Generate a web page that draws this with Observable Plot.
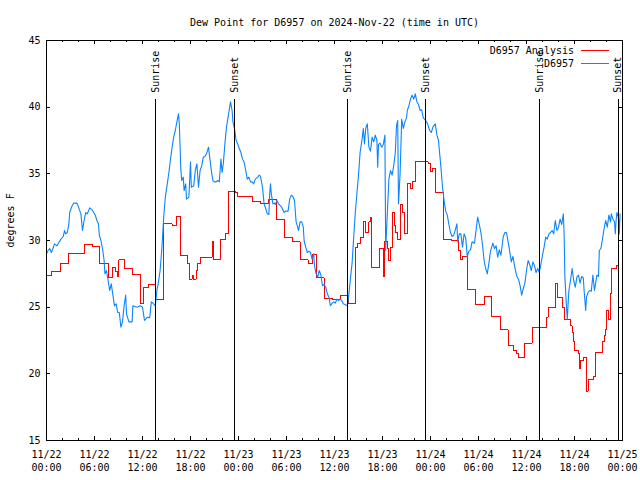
<!DOCTYPE html>
<html><head><meta charset="utf-8">
<script src="https://cdn.jsdelivr.net/npm/d3@7"></script>
<script src="https://cdn.jsdelivr.net/npm/@observablehq/plot@0.6"></script>
<style>html,body{margin:0;padding:0;background:#fff}svg{display:block}</style>
</head><body><div id="chart"></div>
<script>
const chartTitle = "Dew Point for D6957 on 2024-Nov-22 (time in UTC)";
const yLabel = "degrees F";
const startTime = "2024-11-22T00:00:00Z";
const seriesNames = ["D6957 Analysis", "D6957"];
const seriesColors = ["#ff0000", "#0a84ff"];

// Observations (blue): hours since start, dew point (F)
const obsHours = [0,0.2,0.4,0.6,0.8,1,1.3,1.6,1.8,2.1,2.25,2.4,2.6,2.8,2.9,3.2,3.4,3.8,4,4.3,4.5,4.7,4.9,5.1,5.4,5.7,5.9,6.1,6.3,6.5,6.6,6.8,7,7.2,7.3,7.5,7.7,7.9,8.1,8.3,8.5,8.7,8.9,9.1,9.3,9.5,9.7,9.9,10,10.3,10.7,10.8,11.3,11.7,12,12.25,12.6,12.9,13.1,13.3,13.6,13.8,14,14.2,14.4,14.65,14.85,15.1,15.3,15.5,15.7,15.9,16.1,16.3,16.5,16.6,16.8,16.9,17.1,17.2,17.4,17.5,17.8,18,18.1,18.4,18.6,18.8,19,19.2,19.4,19.6,19.8,20,20.25,20.4,20.6,20.8,21,21.2,21.4,21.6,21.8,21.95,22.1,22.3,22.5,22.7,22.9,23,23.2,23.3,23.5,23.7,23.9,24.1,24.3,24.5,24.7,24.9,25.1,25.3,25.5,25.7,25.9,26.1,26.4,26.6,26.75,27,27.2,27.4,27.6,27.8,27.9,28,28.1,28.3,28.5,28.6,28.8,29,29.4,29.7,29.9,30.2,30.4,30.6,30.8,31,31.2,31.4,31.5,31.7,31.9,32.1,32.2,32.4,32.6,32.8,33,33.2,33.4,33.5,33.7,33.9,34.1,34.3,34.5,34.7,34.9,35.1,35.3,35.5,35.7,35.9,36.1,36.3,36.5,36.7,36.9,37.1,37.3,37.6,37.8,38,38.2,38.4,38.6,38.8,39,39.2,39.45,39.6,39.75,39.9,40.1,40.3,40.5,40.7,40.9,41.1,41.3,41.4,41.5,41.7,41.9,42.1,42.3,42.4,42.6,42.8,43,43.2,43.4,43.6,43.75,43.9,44,44.2,44.4,44.6,44.8,45,45.1,45.3,45.5,45.7,45.9,46.1,46.3,46.5,46.7,46.9,47.1,47.4,47.6,47.9,48.1,48.3,48.6,48.8,49,49.3,49.5,49.7,49.9,50.1,50.3,50.5,50.7,50.9,51.1,51.3,51.4,51.6,51.8,52,52.2,52.4,52.6,52.8,53,53.2,53.5,53.7,53.9,54.1,54.3,54.5,54.7,54.9,55.1,55.3,55.5,55.8,56,56.2,56.4,56.6,56.8,57.1,57.3,57.5,57.7,57.9,58.1,58.3,58.6,58.8,59,59.2,59.4,59.6,59.8,60,60.2,60.4,60.6,60.8,61,61.2,61.4,61.6,61.8,62,62.2,62.4,62.6,62.8,63,63.2,63.4,63.6,63.8,64,64.2,64.4,64.6,64.7,64.8,65,65.1,65.2,65.3,65.5,65.7,65.9,66.1,66.3,66.5,66.7,66.9,67.1,67.2,67.4,67.5,67.7,67.9,68.1,68.3,68.5,68.8,69,69.1,69.3,69.5,69.7,69.9,70.1,70.3,70.5,70.6,70.8,71,71.1,71.2,71.3,71.5,71.6,71.7];
const obsValues = [29.0,29.25,29.4,29.1,29.4,29.75,29.6,29.9,30.1,30.3,30.75,30.5,30.6,31.25,32.1,32.6,32.8,32.8,32.5,32.0,30.75,31.5,32.1,32.0,32.45,32.3,32.1,31.9,31.5,31.25,30.4,30.0,29.4,28.5,27.5,27.75,27.0,26.25,26.75,25.9,25.1,25.25,24.6,24.6,23.5,23.9,25.1,25.9,24.5,23.9,23.9,25.1,25.0,25.1,25.0,24.0,24.25,24.2,25.4,25.3,25.1,26.25,26.9,27.75,29.25,31.75,33.25,34.25,35.1,36.1,37.0,37.75,38.25,38.9,39.5,38.75,35.25,34.5,34.75,33.75,34.25,33.1,33.25,35.9,34.0,34.1,35.25,35.75,34.0,35.25,35.6,36.25,36.3,36.5,37.0,36.25,35.25,34.5,34.4,34.4,34.5,34.4,36.1,35.1,35.75,37.25,38.5,39.25,40.0,40.4,39.75,38.9,38.4,37.5,37.25,36.9,36.6,36.1,35.9,35.25,34.6,34.75,34.4,34.4,34.25,34.6,34.75,34.9,34.8,34.0,32.75,32.4,32.0,31.95,33.5,34.25,33.5,32.75,32.8,32.7,33.0,32.75,32.5,32.1,32.2,32.2,33.1,33.4,33.3,33.0,31.4,31.0,30.75,31.4,31.4,31.0,30.0,29.5,29.1,29.2,29.1,28.6,29.0,28.1,27.5,27.25,27.75,27.4,26.6,26.7,26.5,26.0,25.75,25.1,25.3,25.4,25.3,25.6,25.5,25.6,25.5,25.25,25.2,25.1,26.0,27.2,28.3,30.25,32.1,33.5,34.9,36.6,37.6,38.4,37.25,38.4,38.75,37.0,36.7,37.75,37.4,37.9,37.5,35.5,37.2,37.3,37.0,37.2,37.9,29.25,32.0,34.6,35.25,34.9,35.6,36.6,38.6,39.0,32.75,35.0,39.1,38.4,38.9,39.2,39.75,40.1,40.6,40.9,40.6,41.0,40.4,40.2,39.75,39.8,39.2,39.0,38.8,38.25,38.1,38.5,38.75,37.9,37.5,35.5,34.0,33.0,32.2,31.9,31.2,30.6,30.3,30.4,30.8,31.25,29.9,30.5,30.5,29.5,30.5,30.2,28.8,29.2,29.3,29.9,29.8,30.8,31.75,31.2,30.6,29.7,28.5,27.9,27.5,28.3,29.2,29.8,29.4,29.6,28.75,29.3,28.9,30.3,30.6,30.6,29.9,29.2,28.4,28.8,27.8,27.3,27.1,26.6,25.9,26.4,26.8,27.75,28.5,28.2,27.75,28.4,28.1,27.6,27.9,27.6,28.2,28.9,29.5,30.25,30.1,30.5,30.6,30.75,30.5,31.5,30.75,31.0,31.6,31.2,32.0,30.5,27.25,25.0,24.1,25.25,26.25,27.0,27.9,27.0,26.5,27.25,27.4,26.8,27.3,27.2,26.25,24.75,25.75,26.1,26.25,26.2,27.4,26.25,27.4,27.3,29.25,29.4,30.1,30.9,31.5,31.0,31.9,31.4,32.0,31.6,31.4,30.5,31.5,32.1,31.7,30.5,32.0];

// Analysis (red, stepped): hours since start, dew point (F)
const anaHours = [0,0.66,1.75,2.75,3.8,4.8,5.8,6.6,7.75,8.2,8.6,8.9,9.05,9.75,10.7,11.75,12.1,12.8,13.65,14.65,15.7,16.25,16.75,17.6,17.9,18.2,18.4,18.7,18.9,19.2,20.7,20.9,21.75,22.4,22.7,23.6,23.9,25.7,26.8,27.7,28.7,29.75,30.7,31.7,32.7,33.3,33.7,34.7,35.7,36.7,37.7,38.65,38.85,39.2,39.6,39.9,40.3,40.45,40.6,41.6,42.1,42.25,42.6,42.8,43.0,43.3,43.45,43.6,43.85,44.3,44.5,44.7,45.1,45.5,45.75,46.1,47.7,48.0,48.3,48.6,49.6,50.6,51.5,51.7,52.0,52.6,53.6,54.7,55.6,56.7,57.7,58.4,58.7,59.0,59.7,60.7,62.5,62.7,63.6,63.9,64.5,64.75,65.5,65.7,65.9,66.0,66.5,66.6,66.8,67.1,67.5,67.7,68.4,68.6,69.5,69.7,69.9,70.0,70.2,70.5,70.6,71.25,71.5];
const anaValues = [27.35,27.7,28.25,29.0,29.05,29.7,29.55,28.25,27.2,28.0,27.7,27.3,28.55,27.9,27.45,25.3,26.45,26.7,25.6,31.25,31.1,31.8,28.9,28.25,27.1,27.4,27.1,27.75,28.25,28.75,29.9,28.55,30.1,30.5,33.7,33.6,33.3,32.9,32.75,33.1,31.6,30.25,29.9,28.55,28.25,28.95,27.2,25.65,25.55,25.9,25.3,29.5,29.75,30.2,31.4,30.6,31.4,31.75,28.0,29.4,27.3,29.9,29.4,28.5,29.5,32.1,31.1,30.6,30.1,32.7,32.1,30.5,34.25,33.9,34.4,35.9,35.8,35.2,35.4,33.6,30.1,30.0,29.25,28.6,28.8,26.3,25.2,25.8,24.3,23.3,22.1,21.75,21.55,21.2,22.3,23.45,24.25,25.0,26.75,25.7,25.0,24.1,23.6,23.1,22.4,21.75,21.5,20.4,21.0,21.2,18.7,19.6,19.8,21.6,22.4,22.9,23.3,24.75,24.05,26.0,27.9,28.1,28.1];

// Sunrise / sunset markers
const sunHours = [13.67, 23.54, 37.67, 47.42, 61.67, 71.46];
const sunLabels = ["Sunrise", "Sunset", "Sunrise", "Sunset", "Sunrise", "Sunset"];

// Ticks
const xMajorHours = [0, 6, 12, 18, 24, 30, 36, 42, 48, 54, 60, 66, 72];
const xMinorHours = [2, 4, 8, 10, 14, 16, 20, 22, 26, 28, 32, 34, 38, 40, 44, 46, 50, 52, 56, 58, 62, 64, 68, 70];
const yTicks = [15, 20, 25, 30, 35, 40, 45];
const yDomain = [15, 45];

// ---------- build ----------
const t0 = Date.parse(startTime);
const toDate = h => new Date(t0 + h * 3600000);
const obs = obsHours.map((h, i) => ({t: toDate(h), v: obsValues[i]}));
const ana = anaHours.map((h, i) => ({t: toDate(h), v: anaValues[i]}));
const sun = sunHours.map((h, i) => ({t: toDate(h), label: sunLabels[i]}));
const majorDates = xMajorHours.map(toDate);
const minorDates = xMinorHours.map(toDate);

const W = 640, H = 480, mL = 46, mR = 18, mT = 40, mB = 40;
const plotW = W - mL - mR, plotH = H - mT - mB;
const sunLineTop = 40.55;
const font = "DejaVu Sans Mono";

const chart = Plot.plot({
  width: W, height: H,
  marginLeft: mL, marginRight: mR, marginTop: mT, marginBottom: mB,
  style: {fontFamily: font, fontSize: "10px", background: "white", color: "black"},
  x: {type: "utc", domain: [toDate(0), toDate(72)]},
  y: {domain: yDomain},
  marks: [
    Plot.line(ana, {x: "t", y: "v", stroke: seriesColors[0], strokeWidth: 1, curve: "step-after", shapeRendering: "crispEdges"}),
    Plot.line(obs, {x: "t", y: "v", stroke: seriesColors[1], strokeWidth: 1.1}),
    Plot.ruleX(sun, {x: "t", y1: yDomain[0], y2: sunLineTop, stroke: "black", strokeWidth: 1, shapeRendering: "crispEdges"}),
    Plot.text(sun, {x: "t", y: sunLineTop, text: "label", rotate: -90, textAnchor: "start", dy: -7, fill: "black"}),
    Plot.tickY(yTicks, {insetRight: plotW - 4, stroke: "black", shapeRendering: "crispEdges"}),
    Plot.tickY(yTicks, {insetLeft: plotW - 4, stroke: "black", shapeRendering: "crispEdges"}),
    Plot.tickX(majorDates, {insetTop: plotH - 4, stroke: "black", shapeRendering: "crispEdges"}),
    Plot.tickX(majorDates, {insetBottom: plotH - 4, stroke: "black", shapeRendering: "crispEdges"}),
    Plot.tickX(minorDates, {insetTop: plotH - 2, stroke: "black", shapeRendering: "crispEdges"}),
    Plot.tickX(minorDates, {insetBottom: plotH - 2, stroke: "black", shapeRendering: "crispEdges"}),
    Plot.frame({stroke: "black", shapeRendering: "crispEdges"}),
    Plot.axisY(yTicks, {tickSize: 0, tickPadding: 6, label: null}),
    Plot.axisX(majorDates, {tickSize: 0, tickPadding: 10, tickFormat: d3.utcFormat("%m/%d"), label: null}),
    Plot.axisX(majorDates, {tickSize: 0, tickPadding: 23, tickFormat: d3.utcFormat("%H:%M"), label: null}),
    Plot.text([chartTitle], {frameAnchor: "top", dy: -22, fill: "black"}),
    Plot.text([yLabel], {frameAnchor: "left", rotate: -90, dx: -36, dy: 7, fill: "black"})
  ]
});

// Legend (top-right, inside the frame)
const svg = d3.select(chart);
const lg = svg.append("g").attr("font-family", font).attr("font-size", 10);
seriesNames.forEach((name, i) => {
  const y = mT + 10 + i * 13;
  const xr = W - mR;
  lg.append("text").attr("x", xr - 48).attr("y", y).attr("dy", "0.35em")
    .attr("text-anchor", "end").attr("fill", "black").text(name);
  lg.append("line").attr("x1", xr - 41).attr("x2", xr - 13)
    .attr("y1", y + 0.5).attr("y2", y + 0.5)
    .attr("stroke", seriesColors[i]).attr("stroke-width", 1)
    .attr("shape-rendering", "crispEdges");
});

document.getElementById("chart").appendChild(chart);
</script>
</body></html>
